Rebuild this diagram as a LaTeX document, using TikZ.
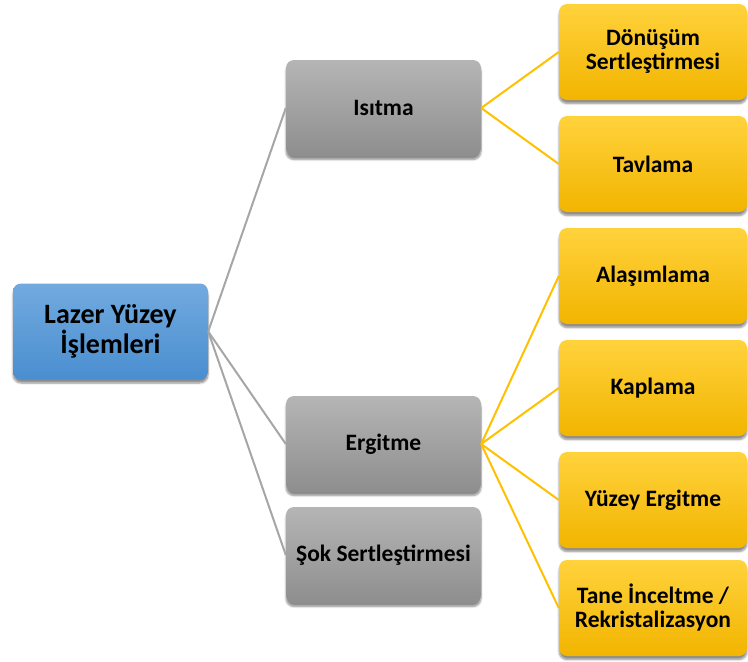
\documentclass[tikz,border=0pt]{standalone}
\usepackage{fontspec}
\setmainfont{Carlito}
\usetikzlibrary{shadows.blur}
\definecolor{bluetop}{HTML}{72AADF}
\definecolor{bluebot}{HTML}{4A8ED0}
\definecolor{greytop}{HTML}{B5B5B5}
\definecolor{greybot}{HTML}{8E8E8E}
\definecolor{yeltop}{HTML}{FFD23C}
\definecolor{yelbot}{HTML}{F2B500}
\definecolor{greyline}{HTML}{A6A6A6}
\definecolor{yelline}{HTML}{FFC000}
\tikzset{
  x=1pt,y=-1pt,
  boxbase/.style={rounded corners=8pt, minimum height=96pt, align=center,
     font=\bfseries, text=black, inner sep=2pt,
     blur shadow={shadow xshift=0pt, shadow yshift=-3.5pt, shadow blur steps=6, shadow opacity=45}},
  rootbox/.style={boxbase, minimum width=195pt, top color=bluetop, bottom color=bluebot,
     font=\bfseries\fontsize{28}{30}\selectfont},
  midbox/.style={boxbase, minimum width=195pt, top color=greytop, bottom color=greybot,
     font=\bfseries\fontsize{23.5}{24}\selectfont},
  leafbox/.style={boxbase, minimum width=188pt, top color=yeltop, bottom color=yelbot,
     font=\bfseries\fontsize{23.5}{24}\selectfont},
  greyconn/.style={draw=greyline, line width=2pt},
  yelconn/.style={draw=yelline, line width=2pt},
}
\begin{document}
\begin{tikzpicture}
\useasboundingbox (0,0) rectangle (748,662);
\node[rootbox] (root) at (110.5,331.5) {Lazer Yüzey\\İşlemleri};
\node[midbox] (isitma) at (383.5,108) {Isıtma};
\node[midbox] (ergitme) at (383.5,444) {Ergitme};
\node[midbox] (sok) at (383.5,555) {Şok Sertleştirmesi};
\node[leafbox] (donusum) at (653,52) {Dönüşüm\\Sertleştirmesi};
\node[leafbox] (tavlama) at (653,164) {Tavlama};
\node[leafbox] (alasim) at (653,276) {Alaşımlama};
\node[leafbox] (kaplama) at (653,388) {Kaplama};
\node[leafbox] (yuzey) at (653,500) {Yüzey Ergitme};
\node[leafbox] (tane) at (653,608) {Tane İnceltme /\\Rekristalizasyon};
\draw[greyconn] (root.east) -- (isitma.west);
\draw[greyconn] (root.east) -- (ergitme.west);
\draw[greyconn] (root.east) -- (sok.west);
\draw[yelconn] (isitma.east) -- (donusum.west);
\draw[yelconn] (isitma.east) -- (tavlama.west);
\draw[yelconn] (ergitme.east) -- (alasim.west);
\draw[yelconn] (ergitme.east) -- (kaplama.west);
\draw[yelconn] (ergitme.east) -- (yuzey.west);
\draw[yelconn] (ergitme.east) -- (tane.west);
\end{tikzpicture}
\end{document}
